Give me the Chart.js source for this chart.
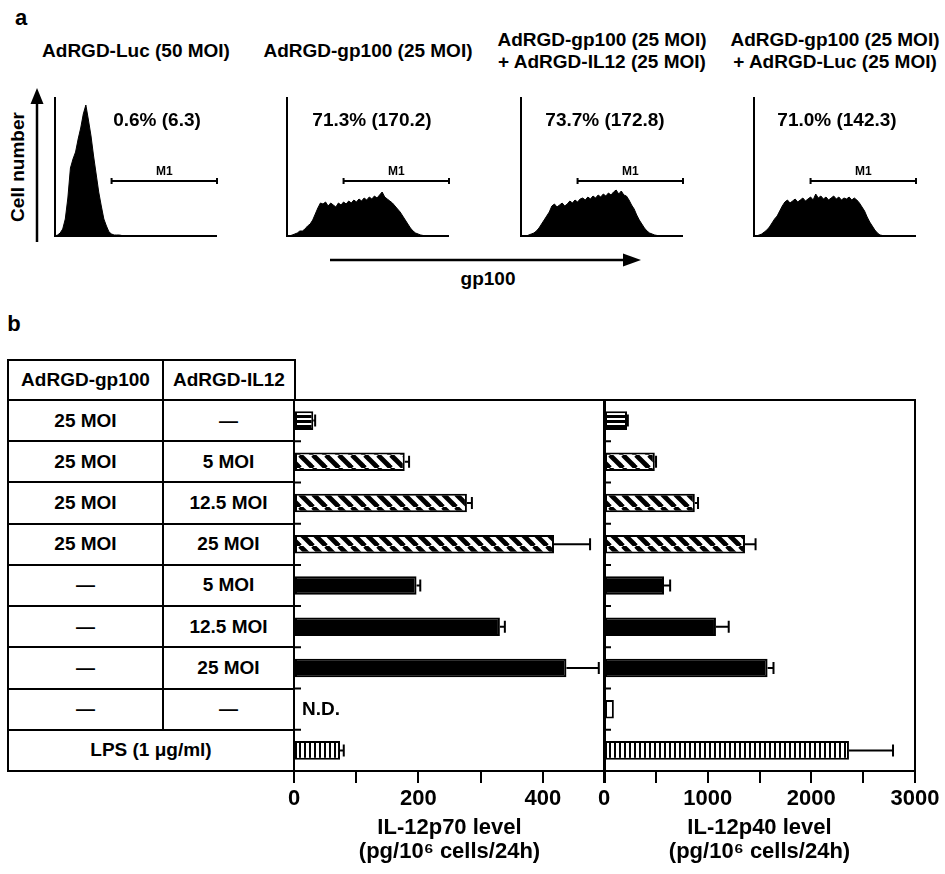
<!DOCTYPE html>
<html>
<head>
<meta charset="utf-8">
<script src="https://cdn.jsdelivr.net/npm/chart.js@4.4.0/dist/chart.umd.min.js"></script>
<style>
  body { margin: 0; background: #fff; }
  #fig { position: relative; width: 945px; height: 874px; overflow: hidden;
         font-family: "Liberation Sans", Arial, sans-serif; font-weight: bold; color: #000; }
  #fig canvas { position: absolute; }
  #fig svg { position: absolute; left: 0; top: 0; }
  .t { position: absolute; white-space: nowrap; transform: translate(-50%, -50%); line-height: 1.25; text-align: center; }
  .cell { position: absolute; box-sizing: border-box; border: 2px solid #000; display: flex;
          align-items: center; justify-content: center; font-size: 19px; background: #fff; }
</style>
</head>
<body>
<div id="fig">
  <svg width="945" height="874">
    <line x1="37" y1="242" x2="37" y2="100" stroke="#000" stroke-width="2.5"/>
    <polygon points="30.5,104 43.5,104 37,88" fill="#000"/>
    <line x1="330" y1="260" x2="626" y2="260" stroke="#000" stroke-width="2.5"/>
    <polygon points="623,253.5 623,266.5 641,260" fill="#000"/>
  </svg>
</div>
<script>
// ---- panel a : flow cytometry histograms (cell count per fluorescence channel)
const histChannels = Array.from({ length: 64 }, (_, i) => i);
const histLuc = [
  0, 1, 3, 7, 17, 38, 68, 77, 84, 97, 108, 122, 131, 116, 100, 80,
  62, 44, 30, 17, 10, 4, 2, 1, 1, 1, 0.5, 0.5, 0.5, 0.5, 0, 0,
  0, 0, 0, 0, 0, 0, 0, 0, 0, 0, 0, 0, 0, 0, 0, 0,
  0, 0, 0, 0, 0, 0, 0, 0, 0, 0, 0, 0, 0, 0, 0, 0
];
const histGp100 = [
  0, 0, 1, 2, 3, 5, 5, 7, 10, 12, 16, 22, 28, 33, 32, 34,
  30, 33, 31, 29, 33, 31, 34, 32, 35, 33, 36, 34, 37, 35, 38, 36,
  39, 37, 40, 38, 41, 44, 39, 37, 35, 33, 30, 27, 24, 20, 16, 12,
  8, 5, 3, 2, 1, 0.5, 0, 0, 0, 0, 0, 0, 0, 0, 0, 0
];
const histGpIL12 = [
  0, 0, 0, 1, 2, 3, 5, 8, 12, 16, 20, 24, 30, 32, 29, 31,
  33, 30, 32, 35, 33, 36, 34, 37, 38, 36, 39, 37, 40, 38, 41, 39,
  42, 40, 43, 41, 44, 46, 42, 45, 41, 40, 36, 31, 27, 21, 16, 12,
  8, 5, 3, 2, 1, 0.5, 0, 0, 0, 0, 0, 0, 0, 0, 0, 0
];
const histGpLuc = [
  0, 0, 1, 2, 4, 6, 9, 13, 17, 20, 25, 30, 34, 36, 33, 35,
  37, 34, 36, 38, 35, 37, 39, 36, 42, 38, 40, 37, 39, 36, 38, 40,
  37, 39, 36, 38, 37, 39, 36, 38, 36, 33, 29, 25, 19, 14, 10, 6,
  3, 1, 0.5, 0, 0, 0, 0, 0, 0, 0, 0, 0, 0, 0, 0, 0
];
const histTitles = [
  ["AdRGD-Luc (50 MOI)"],
  ["AdRGD-gp100 (25 MOI)"],
  ["AdRGD-gp100 (25 MOI)", "+ AdRGD-IL12 (25 MOI)"],
  ["AdRGD-gp100 (25 MOI)", "+ AdRGD-Luc (25 MOI)"]
];
const histPercents = ["0.6% (6.3)", "71.3% (170.2)", "73.7% (172.8)", "71.0% (142.3)"];
const gateM1 = [22, 63];   // channel range of marker M1
const gateLevel = 55;

// ---- panel b : IL-12 secretion
const gp100Doses = ["25 MOI", "25 MOI", "25 MOI", "25 MOI", "—", "—", "—", "—"];
const il12Doses = ["—", "5 MOI", "12.5 MOI", "25 MOI", "5 MOI", "12.5 MOI", "25 MOI", "—"];
const lpsLabel = "LPS (1 μg/ml)";
const groups = ["gp100", "gp100+IL12 5", "gp100+IL12 12.5", "gp100+IL12 25",
                "IL12 5", "IL12 12.5", "IL12 25", "none", "LPS"];
const p70Values = [31, 178, 278, 418, 197, 331, 438, null, 74];
const p70Errors = [3, 7, 8, 58, 6, 8, 52, 0, 6];
const p40Values = [222, 490, 876, 1360, 579, 1080, 1578, 95, 2363];
const p40Errors = [8, 12, 31, 102, 59, 123, 57, 0, 425];
const barFills = ["hstripe", "diag", "diag", "diag", "solid", "solid", "solid", "open", "vstripe"];

const fig = document.getElementById("fig");
const FONT = "Liberation Sans";

function addText(x, y, html, size, cls) {
  let d = document.createElement("div");
  d.className = "t" + (cls ? " " + cls : "");
  d.style.left = x + "px";
  d.style.top = y + "px";
  d.style.fontSize = size + "px";
  d.innerHTML = html;
  fig.appendChild(d);
  return d;
}

function addCanvas(left, top, w, h) {
  let c = document.createElement("canvas");
  c.width = w;
  c.height = h;
  c.style.left = left + "px";
  c.style.top = top + "px";
  fig.appendChild(c);
  return c;
}

// ---------------- panel a ----------------
const histFrame = {
  id: "histFrame",
  afterDraw(chart) {
    const { ctx, chartArea: a, scales } = chart;
    ctx.save();
    ctx.strokeStyle = "#000";
    ctx.lineWidth = 2;
    ctx.beginPath();
    ctx.moveTo(a.left, a.top);
    ctx.lineTo(a.left, a.bottom);
    ctx.lineTo(a.right, a.bottom);
    ctx.stroke();
    let y = scales.y.getPixelForValue(gateLevel);
    let x0 = scales.x.getPixelForValue(gateM1[0]);
    let x1 = scales.x.getPixelForValue(gateM1[1]);
    ctx.beginPath();
    ctx.moveTo(x0, y); ctx.lineTo(x1, y);
    ctx.moveTo(x0, y - 3); ctx.lineTo(x0, y + 3);
    ctx.moveTo(x1, y - 3); ctx.lineTo(x1, y + 3);
    ctx.stroke();
    ctx.restore();
  }
};

const HIST_TOP = 97, HIST_H = 139, HIST_W = 162, HP = 6;
const histPanels = [
  { left: 55, data: histLuc },
  { left: 287, data: histGp100 },
  { left: 521, data: histGpIL12 },
  { left: 754, data: histGpLuc }
];

histPanels.forEach((p, k) => {
  let cv = addCanvas(p.left - HP, HIST_TOP - HP, HIST_W + 2 * HP, HIST_H + 2 * HP);
  let ch = new Chart(cv, {
    type: "line",
    data: {
      labels: histChannels,
      datasets: [{
        data: p.data,
        fill: "origin",
        backgroundColor: "#000",
        borderColor: "#000",
        borderWidth: 1,
        pointRadius: 0,
        tension: 0
      }]
    },
    options: {
      responsive: false,
      animation: false,
      events: [],
      layout: { padding: HP },
      plugins: { legend: { display: false }, tooltip: { enabled: false } },
      scales: {
        x: { display: false, offset: false },
        y: { display: false, min: 0, max: HIST_H }
      }
    },
    plugins: [histFrame]
  });
  let a = ch.chartArea;
  let cx = p.left - HP + (a.left + a.right) / 2;
  let t = histTitles[k];
  if (t.length === 1) {
    addText(cx, 51, t[0], 19);
  } else {
    addText(cx, 40, t[0], 19);
    addText(cx, 62, t[1], 19);
  }
  let gx = (ch.scales.x.getPixelForValue(gateM1[0]) + ch.scales.x.getPixelForValue(gateM1[1])) / 2;
  let gy = ch.scales.y.getPixelForValue(gateLevel);
  addText(p.left - HP + gx, HIST_TOP - HP + gy - 10, "M1", 12);
  let pctX = [157, 372, 605, 837][k];
  addText(pctX, 120, histPercents[k], 19);
});

addText(21, 18, "a", 22);
let cn = addText(18, 167, "Cell number", 19);
cn.style.transform = "translate(-50%, -50%) rotate(-90deg)";
addText(488, 279, "gp100", 19);

// ---------------- panel b ----------------
function makePattern(kind) {
  if (kind === "solid") return "#000";
  if (kind === "open") return "#fff";
  let c = document.createElement("canvas");
  let g = c.getContext("2d");
  if (kind === "hstripe") {
    c.width = 4; c.height = 5;
    g.fillStyle = "#fff"; g.fillRect(0, 0, 4, 5);
    g.fillStyle = "#000"; g.fillRect(0, 0, 4, 3);
  } else if (kind === "vstripe") {
    c.width = 5; c.height = 4;
    g.fillStyle = "#fff"; g.fillRect(0, 0, 5, 4);
    g.fillStyle = "#000"; g.fillRect(0, 0, 2, 4);
  } else {
    c.width = 13; c.height = 13;
    g.fillStyle = "#fff"; g.fillRect(0, 0, 13, 13);
    g.strokeStyle = "#000"; g.lineWidth = 4.8;
    [-13, 0, 13].forEach(o => {
      g.beginPath(); g.moveTo(o, 0); g.lineTo(o + 13, 13); g.stroke();
    });
  }
  return g.createPattern(c, "repeat");
}

const errorBars = {
  id: "errorBars",
  afterDatasetsDraw(chart, args, opts) {
    const { ctx, scales: { x } } = chart;
    const ds = chart.data.datasets[0];
    const meta = chart.getDatasetMeta(0);
    ctx.save();
    ctx.strokeStyle = "#000";
    ctx.lineWidth = 2;
    meta.data.forEach((bar, i) => {
      let v = ds.data[i], e = opts.errors[i];
      if (v == null || !e) return;
      let x0 = x.getPixelForValue(v), x1 = x.getPixelForValue(v + e);
      ctx.beginPath();
      ctx.moveTo(x0, bar.y); ctx.lineTo(x1, bar.y);
      ctx.moveTo(x1, bar.y - 6); ctx.lineTo(x1, bar.y + 6);
      ctx.stroke();
    });
    ctx.restore();
  }
};

const boxFrame = {
  id: "boxFrame",
  afterDraw(chart) {
    const { ctx, chartArea: a, scales: { y } } = chart;
    ctx.save();
    ctx.strokeStyle = "#000";
    ctx.lineWidth = 2;
    ctx.strokeRect(a.left, a.top, a.right - a.left, a.bottom - a.top);
    ctx.beginPath();
    for (let i = 1; i < groups.length; i++) {
      let yy = (y.getPixelForValue(i - 1) + y.getPixelForValue(i)) / 2;
      ctx.moveTo(a.left, yy); ctx.lineTo(a.left + 7, yy);
    }
    ctx.stroke();
    ctx.restore();
  }
};

const CAN_TOP = 390, CAN_H = 484, AXIS_H = 92;

function barChart(left, width, padRight, values, errors, max, step, labelEvery, hideAt, title) {
  let cv = addCanvas(left, CAN_TOP, width, CAN_H);
  return new Chart(cv, {
    type: "bar",
    data: {
      labels: groups,
      datasets: [{
        data: values,
        backgroundColor: barFills.map(makePattern),
        borderColor: "#000",
        borderWidth: 2,
        borderSkipped: false,
        categoryPercentage: 1,
        barPercentage: 0.45
      }]
    },
    options: {
      indexAxis: "y",
      responsive: false,
      animation: false,
      events: [],
      layout: { padding: { left: 20, right: padRight, top: 10, bottom: CAN_H - 10 - 371 - AXIS_H } },
      plugins: {
        legend: { display: false },
        tooltip: { enabled: false },
        errorBars: { errors: errors }
      },
      scales: {
        y: { display: false },
        x: {
          min: 0,
          max: max,
          afterFit: (s) => { s.height = AXIS_H; },
          border: { display: true, color: "#000", width: 2 },
          grid: { drawOnChartArea: false, drawTicks: true, tickLength: 12, color: "#000", lineWidth: 2 },
          ticks: {
            stepSize: step,
            maxRotation: 0,
            autoSkip: false,
            padding: 3,
            color: "#000",
            font: { family: FONT, size: 22, weight: "bold" },
            callback: (v) => (v % labelEvery === 0 && v !== hideAt ? v : "")
          },
          title: {
            display: true,
            text: title,
            color: "#000",
            padding: { top: 4, bottom: 0 },
            font: { family: FONT, size: 22, weight: "bold", lineHeight: 1.05 }
          }
        }
      }
    },
    plugins: [boxFrame, errorBars]
  });
}

const p70Chart = barChart(274, 351, 20, p70Values, p70Errors, 500, 100, 200, 500,
  ["IL-12p70 level", "(pg/10\u2076 cells/24h)"]);
const p40Chart = barChart(584, 361, 30, p40Values, p40Errors, 3000, 500, 1000, null,
  ["IL-12p40 level", "(pg/10\u2076 cells/24h)"]);

// table aligned to the category rows of the chart
const ys = p70Chart.scales.y;
const ca = p70Chart.chartArea;
const tblRight = 274 + ca.left;
const tblLeft = 8, colSplit = 163, headTop = 360;
function rowEdge(i) {
  if (i === 0) return CAN_TOP + ca.top;
  if (i === groups.length) return CAN_TOP + ca.bottom;
  return CAN_TOP + (ys.getPixelForValue(i - 1) + ys.getPixelForValue(i)) / 2;
}
function addCell(x0, x1, y0, y1, txt) {
  let d = document.createElement("div");
  d.className = "cell";
  d.style.left = (x0 - 1) + "px";
  d.style.top = (y0 - 1) + "px";
  d.style.width = (x1 - x0 + 2) + "px";
  d.style.height = (y1 - y0 + 2) + "px";
  d.textContent = txt;
  fig.appendChild(d);
}
addCell(tblLeft, colSplit, headTop, rowEdge(0), "AdRGD-gp100");
addCell(colSplit, tblRight + 1, headTop, rowEdge(0), "AdRGD-IL12");
for (let i = 0; i < gp100Doses.length; i++) {
  addCell(tblLeft, colSplit, rowEdge(i), rowEdge(i + 1), gp100Doses[i]);
  addCell(colSplit, tblRight, rowEdge(i), rowEdge(i + 1), il12Doses[i]);
}
addCell(tblLeft, tblRight, rowEdge(8), rowEdge(9), lpsLabel);

let nd = addText(274 + ca.left + 8, CAN_TOP + ys.getPixelForValue(7), "N.D.", 19);
nd.style.transform = "translate(0, -50%)";
addText(14, 324, "b", 22);
</script>
</body>
</html>
